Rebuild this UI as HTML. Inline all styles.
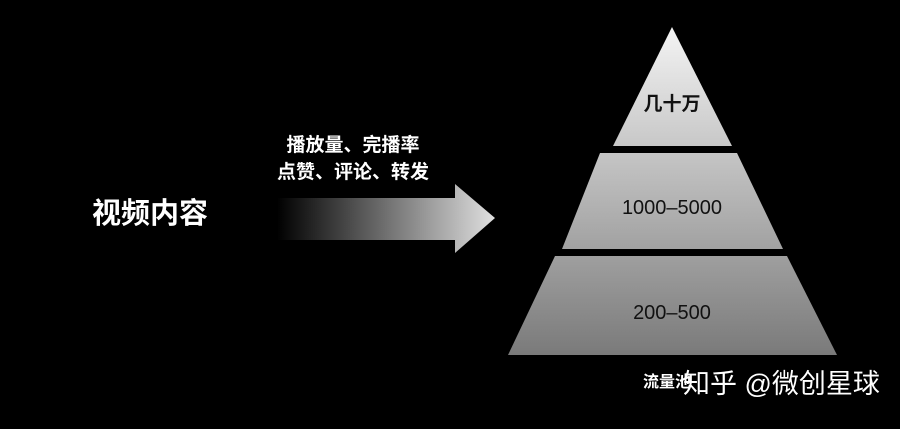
<!DOCTYPE html>
<html><head><meta charset="utf-8"><style>
body{margin:0;background:#000;width:900px;height:424px;overflow:hidden}
</style></head><body>
<svg width="900" height="424" xmlns="http://www.w3.org/2000/svg" style="font-family:'Liberation Sans','Noto Sans CJK SC',sans-serif">
<defs>
<linearGradient id="p" x1="0" y1="27" x2="0" y2="355" gradientUnits="userSpaceOnUse">
<stop offset="0" stop-color="#f4f4f4"/><stop offset="1" stop-color="#7a7a7a"/></linearGradient>
<linearGradient id="a" x1="277" y1="0" x2="495" y2="0" gradientUnits="userSpaceOnUse">
<stop offset="0" stop-color="#000"/><stop offset="1" stop-color="#e0e0e0"/></linearGradient>
</defs>
<rect width="900" height="424" fill="#000"/>
<polygon points="672,27 732,146 613,146" fill="url(#p)"/>
<polygon points="600,153 737,153 783,249 562,249" fill="url(#p)"/>
<polygon points="555,256 787,256 837,355 508,355" fill="url(#p)"/>
<polygon points="277,198 455,198 455,184 495,218 455,253 455,240 277,240" fill="url(#a)"/>
<text x="150" y="223" fill="#fff" font-size="29" font-weight="bold" text-anchor="middle">视频内容</text>
<text x="353" y="151" fill="#fff" font-size="19" font-weight="bold" text-anchor="middle">播放量、完播率</text>
<text x="353" y="178" fill="#fff" font-size="19" font-weight="bold" text-anchor="middle">点赞、评论、转发</text>
<text x="672" y="110" fill="#111" font-size="19" font-weight="bold" text-anchor="middle">几十万</text>
<text x="672" y="214" fill="#111" font-size="20" text-anchor="middle">1000–5000</text>
<text x="672" y="319" fill="#111" font-size="20" text-anchor="middle">200–500</text>
<text x="643" y="387" fill="#fff" font-size="16" font-weight="bold">流量池</text>
<text x="683" y="393" fill="#fff" font-size="27">知乎 @微创星球</text>
</svg>
</body></html>
